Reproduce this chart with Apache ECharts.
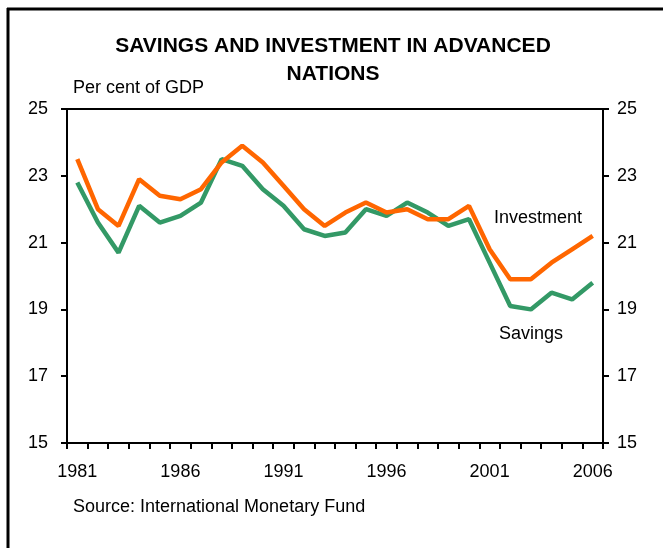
<!DOCTYPE html>
<html>
<head>
<meta charset="utf-8">
<script src="https://cdn.jsdelivr.net/npm/echarts@6/dist/echarts.min.js"></script>
<style>
  html, body { margin: 0; padding: 0; background: #fff; }
  #chart { width: 663px; height: 548px; }
</style>
</head>
<body>
<div id="chart"></div>
<script>
// Annual data, per cent of GDP
const years = ['1981','1982','1983','1984','1985','1986','1987','1988','1989','1990',
  '1991','1992','1993','1994','1995','1996','1997','1998','1999','2000',
  '2001','2002','2003','2004','2005','2006'];
const investment = [23.5, 22.0, 21.5, 22.9, 22.4, 22.3, 22.6, 23.4, 23.9, 23.4,
  22.7, 22.0, 21.5, 21.9, 22.2, 21.9, 22.0, 21.7, 21.7, 22.1,
  20.8, 19.9, 19.9, 20.4, 20.8, 21.2];
const savings = [22.8, 21.6, 20.7, 22.1, 21.6, 21.8, 22.2, 23.5, 23.3, 22.6,
  22.1, 21.4, 21.2, 21.3, 22.0, 21.8, 22.2, 21.9, 21.5, 21.7,
  20.4, 19.1, 19.0, 19.5, 19.3, 19.8];
const yMin = 15, yMax = 25, yStep = 2;

const FONT = '"Liberation Sans", Arial, sans-serif';
const chart = echarts.init(document.getElementById('chart'), null, { renderer: 'canvas' });

const yAxisBase = {
  type: 'value', min: yMin, max: yMax, interval: yStep,
  splitLine: { show: false },
  axisLine: { show: true, lineStyle: { color: '#000', width: 2 } },
  axisTick: { show: true, inside: false, length: 6, lineStyle: { color: '#000', width: 2 } },
  axisLabel: { color: '#000', fontSize: 18, fontFamily: FONT }
};

chart.setOption({
  backgroundColor: '#fff',
  animation: false,
  grid: {
    left: 67, right: 60, top: 109, bottom: 105,
    show: true, borderColor: '#000', borderWidth: 2, backgroundColor: 'transparent'
  },
  xAxis: {
    type: 'category', data: years, boundaryGap: true,
    axisLine: { show: true, lineStyle: { color: '#000', width: 2 } },
    axisTick: { show: true, interval: 0, length: 6, lineStyle: { color: '#000', width: 2 } },
    axisLabel: { interval: 4, color: '#000', fontSize: 18, fontFamily: FONT, margin: 20 },
    splitLine: { show: false }
  },
  yAxis: [
    Object.assign({}, yAxisBase, { position: 'left', axisLabel: Object.assign({}, yAxisBase.axisLabel, { margin: 19 }) }),
    Object.assign({}, yAxisBase, { position: 'right', axisLabel: Object.assign({}, yAxisBase.axisLabel, { margin: 14 }) })
  ],
  series: [
    {
      name: 'Savings', type: 'line', data: savings, yAxisIndex: 0,
      symbol: 'none', lineStyle: { color: '#339966', width: 4.5 }, z: 2
    },
    {
      name: 'Investment', type: 'line', data: investment, yAxisIndex: 0,
      symbol: 'none', lineStyle: { color: '#FF6600', width: 4.5 }, z: 3
    }
  ],
  graphic: [
    // outer frame: top and left edges
    { type: 'line', shape: { x1: 7, y1: 9, x2: 663, y2: 9 }, style: { stroke: '#000', lineWidth: 3 } },
    { type: 'line', shape: { x1: 8, y1: 8, x2: 8, y2: 548 }, style: { stroke: '#000', lineWidth: 3 } },
    // two-line centred heading
    { type: 'text', x: 333, y: 32, style: {
        text: 'SAVINGS AND INVESTMENT IN ADVANCED\nNATIONS',
        font: 'bold 21px ' + FONT, fill: '#000', align: 'center', verticalAlign: 'top', lineHeight: 28 } },
    { type: 'text', left: 73, top: 79, style: { text: 'Per cent of GDP', font: '18px ' + FONT, fill: '#000' } },
    { type: 'text', left: 494, top: 209, style: { text: 'Investment', font: '18px ' + FONT, fill: '#000' } },
    { type: 'text', left: 499, top: 325, style: { text: 'Savings', font: '18px ' + FONT, fill: '#000' } },
    { type: 'text', left: 73, top: 498, style: { text: 'Source: International Monetary Fund', font: '18px ' + FONT, fill: '#000' } }
  ]
});
</script>
</body>
</html>
